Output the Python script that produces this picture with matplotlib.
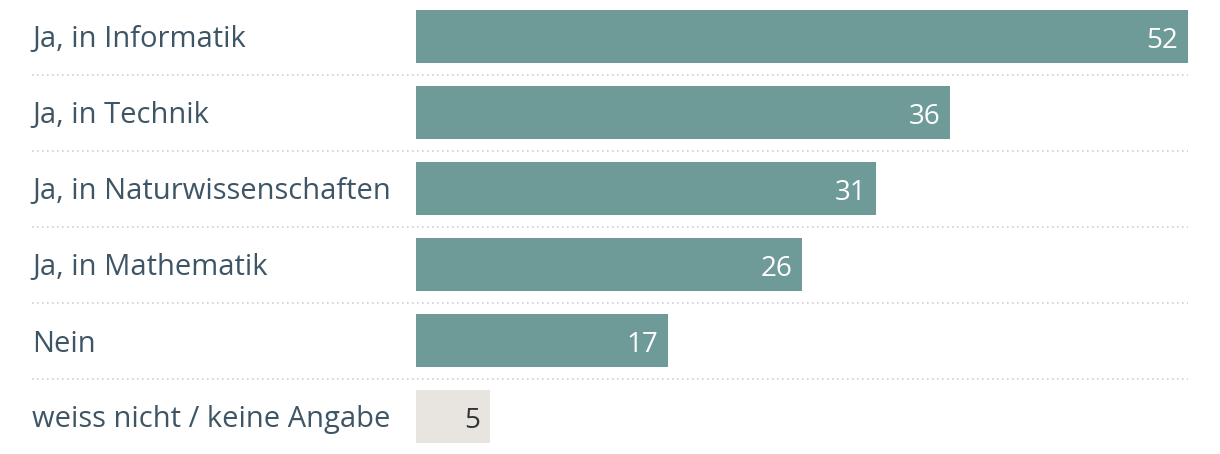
import matplotlib
matplotlib.use("Agg")
import matplotlib.pyplot as plt

categories = [
    "Ja, in Informatik",
    "Ja, in Technik",
    "Ja, in Naturwissenschaften",
    "Ja, in Mathematik",
    "Nein",
    "weiss nicht / keine Angabe",
]
values = [52, 36, 31, 26, 17, 5]

TEAL = "#6e9a98"
GREY = "#e8e4e0"
LABEL_COLOR = "#3e5565"

plt.rcParams["font.family"] = ["Open Sans", "DejaVu Sans"]

fig = plt.figure(figsize=(12.2, 4.54), dpi=100)
W, H = 1220, 454
x0, x1 = 416, 1188
ax = fig.add_axes([x0 / W, 0, (x1 - x0) / W, 1])

pitch = 76
top_center = 36.5
ax.set_xlim(0, 52)
ax.set_ylim((H - top_center) / pitch, -top_center / pitch)
ax.axis("off")

px = 52 / (x1 - x0)  # data units per pixel
base = 11 / pitch    # baseline offset below row centre
colors = [TEAL] * 5 + [GREY]
ax.barh(range(len(values)), values, height=53 / pitch, color=colors, left=0)

for i, (cat, v) in enumerate(zip(categories, values)):
    ax.text((32 - x0) * px, i + base, cat, ha="left", va="baseline",
            fontsize=21, color=LABEL_COLOR, clip_on=False)
    tcol = "white" if i < 5 else "#333333"
    ax.text(v - 10 * px, i + base, str(v), ha="right", va="baseline",
            fontsize=20, color=tcol)

for i in range(len(values) - 1):
    ax.plot([(32 - x0) * px, 52], [i + 0.5, i + 0.5], linestyle=(0, (1, 2)),
            color="#cfcfcf", linewidth=1.2, clip_on=False)

fig.savefig("out.png", dpi=100)
